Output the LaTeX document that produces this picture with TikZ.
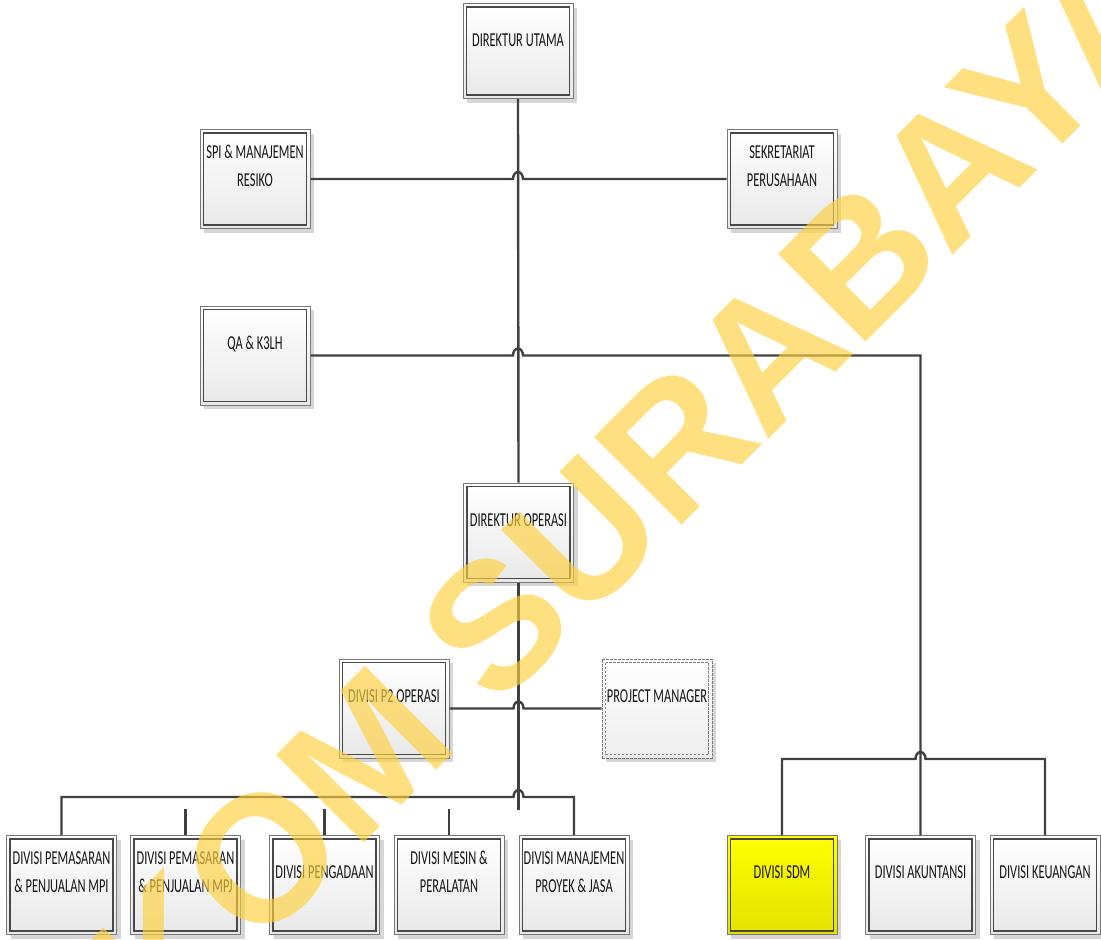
\documentclass[tikz,border=0pt]{standalone}
\usepackage{fontspec}
\setmainfont{Carlito}[FakeStretch=0.63]
\newfontfamily\stampfont{Liberation Sans}
\usetikzlibrary{shadows,calc}

\begin{document}
\begin{tikzpicture}[x=0.75pt,y=0.75pt,yscale=-1,xscale=1,
  unit/.style={draw={rgb, 255:red, 120; green, 120; blue, 120}, line width=0.75pt,
    minimum width=82.5pt, minimum height=74.25pt, inner sep=0pt,
    top color=white, bottom color={rgb, 255:red, 232; green, 232; blue, 232},
    drop shadow={shadow xshift=3pt, shadow yshift=-3pt, fill={rgb, 255:red, 214; green, 214; blue, 214}, opacity=1}},
  hrunit/.style={unit, top color={rgb, 255:red, 255; green, 255; blue, 0}, bottom color={rgb, 255:red, 226; green, 226; blue, 0}},
  pmunit/.style={unit, dash pattern={on 2pt off 1pt}, bottom color={rgb, 255:red, 238; green, 238; blue, 238}},
  inner/.style={draw={rgb, 255:red, 72; green, 72; blue, 72}, line width=0.9pt},
  tag/.style={font=\fontsize{14.8}{21}\selectfont, align=center, inner sep=0pt, text={rgb, 255:red, 20; green, 20; blue, 20}},
  link/.style={draw={rgb, 255:red, 64; green, 64; blue, 64}, line width=1.8pt},
  hop/.style={start angle=180, end angle=360, x radius=5, y radius=7},
  stamp/.style={font=\stampfont\bfseries\fontsize{135}{135}\selectfont, text={rgb, 255:red, 255; green, 208; blue, 60}, text opacity=0.65,
    inner sep=0pt, rotate=45}
]
\useasboundingbox (0,0) rectangle (1101,940);

%Shape: Rectangle [top]
\node[unit, minimum height=71.25pt] (du) at (518,51) {};
%Shape: Rectangle [staff]
\node[unit] (spi) at (255,179) {};
\node[unit] (sek) at (782,179) {};
\node[unit] (qa) at (255,355.5) {};
%Shape: Rectangle [operations]
\node[unit] (do) at (518.5,532.5) {};
\node[unit] (p2) at (394,708.5) {};
\node[pmunit] (pm) at (657,708.5) {};
%Shape: Rectangle [divisions]
\node[unit] (mpi) at (61.5,885) {};
\node[unit] (mpj) at (185.5,885) {};
\node[unit] (pen) at (324.5,885) {};
\node[unit] (mes) at (449,885) {};
\node[unit] (mpro) at (574,885) {};
\node[hrunit] (sdm) at (782,885) {};
\node[unit] (aku) at (920.5,885) {};
\node[unit] (keu) at (1045,885) {};

%Shape: Rectangle [inner frames]
\foreach \n in {du,spi,sek,qa,do,p2,mpi,mpj,pen,mes,mpro,sdm,aku,keu}
  \draw[inner] ($(\n.north west)+(4,4)$) rectangle ($(\n.south east)+(-4,-4)$);
\draw[inner, draw={rgb, 255:red, 128; green, 128; blue, 128}, line width=0.75pt, dash pattern={on 2pt off 1pt}] ($(pm.north west)+(4,4)$) rectangle ($(pm.south east)+(-4,-4)$);

% Text Node
\node[tag] (du-t) at (518,40) {DIREKTUR UTAMA};
% Text Node
\node[tag] (spi-t) at (255,166) {SPI \& MANAJEMEN\\RESIKO};
% Text Node
\node[tag] (sek-t) at (782,166) {SEKRETARIAT\\PERUSAHAAN};
% Text Node
\node[tag] (qa-t) at (255,344) {QA \& K3LH};
% Text Node
\node[tag] (do-t) at (518.5,520) {DIREKTUR OPERASI};
% Text Node
\node[tag] (p2-t) at (394,696) {DIVISI P2 OPERASI};
% Text Node
\node[tag] (pm-t) at (657,696) {PROJECT MANAGER};
% Text Node
\node[tag] (mpi-t) at (61.5,872) {DIVISI PEMASARAN\\\& PENJUALAN MPI};
% Text Node
\node[tag] (mpj-t) at (185.5,872) {DIVISI PEMASARAN\\\& PENJUALAN MPJ};
% Text Node
\node[tag] (pen-t) at (324.5,872) {DIVISI PENGADAAN};
% Text Node
\node[tag] (mes-t) at (449,872) {DIVISI MESIN \&\\PERALATAN};
% Text Node
\node[tag] (mpro-t) at (574,872) {DIVISI MANAJEMEN\\PROYEK \& JASA};
% Text Node
\node[tag] (sdm-t) at (782,872) {DIVISI SDM};
% Text Node
\node[tag] (aku-t) at (920.5,872) {DIVISI AKUNTANSI};
% Text Node
\node[tag] (keu-t) at (1045,872) {DIVISI KEUANGAN};

\coordinate (tail) at (518.5,810);
\coordinate (bus) at (518.5,797);
\coordinate (hub) at (920.5,759);

%Straight Lines [spine]
\draw[link] (du.south) -- (do.north);
\draw[link] (do.south) -- (tail);
%Straight Lines [staff]
\draw[link] (spi.east) -- ([xshift=-3.75pt]spi.east -| du.south) arc[hop] -- (sek.west);
\draw[link] (qa.east) -- ([xshift=-3.75pt]qa.east -| du.south) arc[hop] -- (qa.east -| aku.north) -- (aku.north);
\draw[link] (sdm.north) -- (sdm.north |- hub) -- ([xshift=-3.75pt]hub) arc[hop] -- (keu.north |- hub) -- (keu.north);
%Straight Lines [operations]
\draw[link] (p2.east) -- ([xshift=-3.75pt]p2.east -| do.south) arc[hop] -- (pm.west);
\draw[link] (mpi.north) -- (mpi.north |- bus) -- ([xshift=-3.75pt]bus) arc[hop] -- (mpro.north |- bus) -- (mpro.north);
\foreach \n in {mpj,pen,mes} \draw[link] (\n.north) -- ++(0,-26);

%Watermark
\begin{scope}
\clip (0,0) rectangle (1101,940);
\node[stamp] (wm) at (537,583) {STIKOM SURABAYA};
\end{scope}

\end{tikzpicture}
\end{document}
